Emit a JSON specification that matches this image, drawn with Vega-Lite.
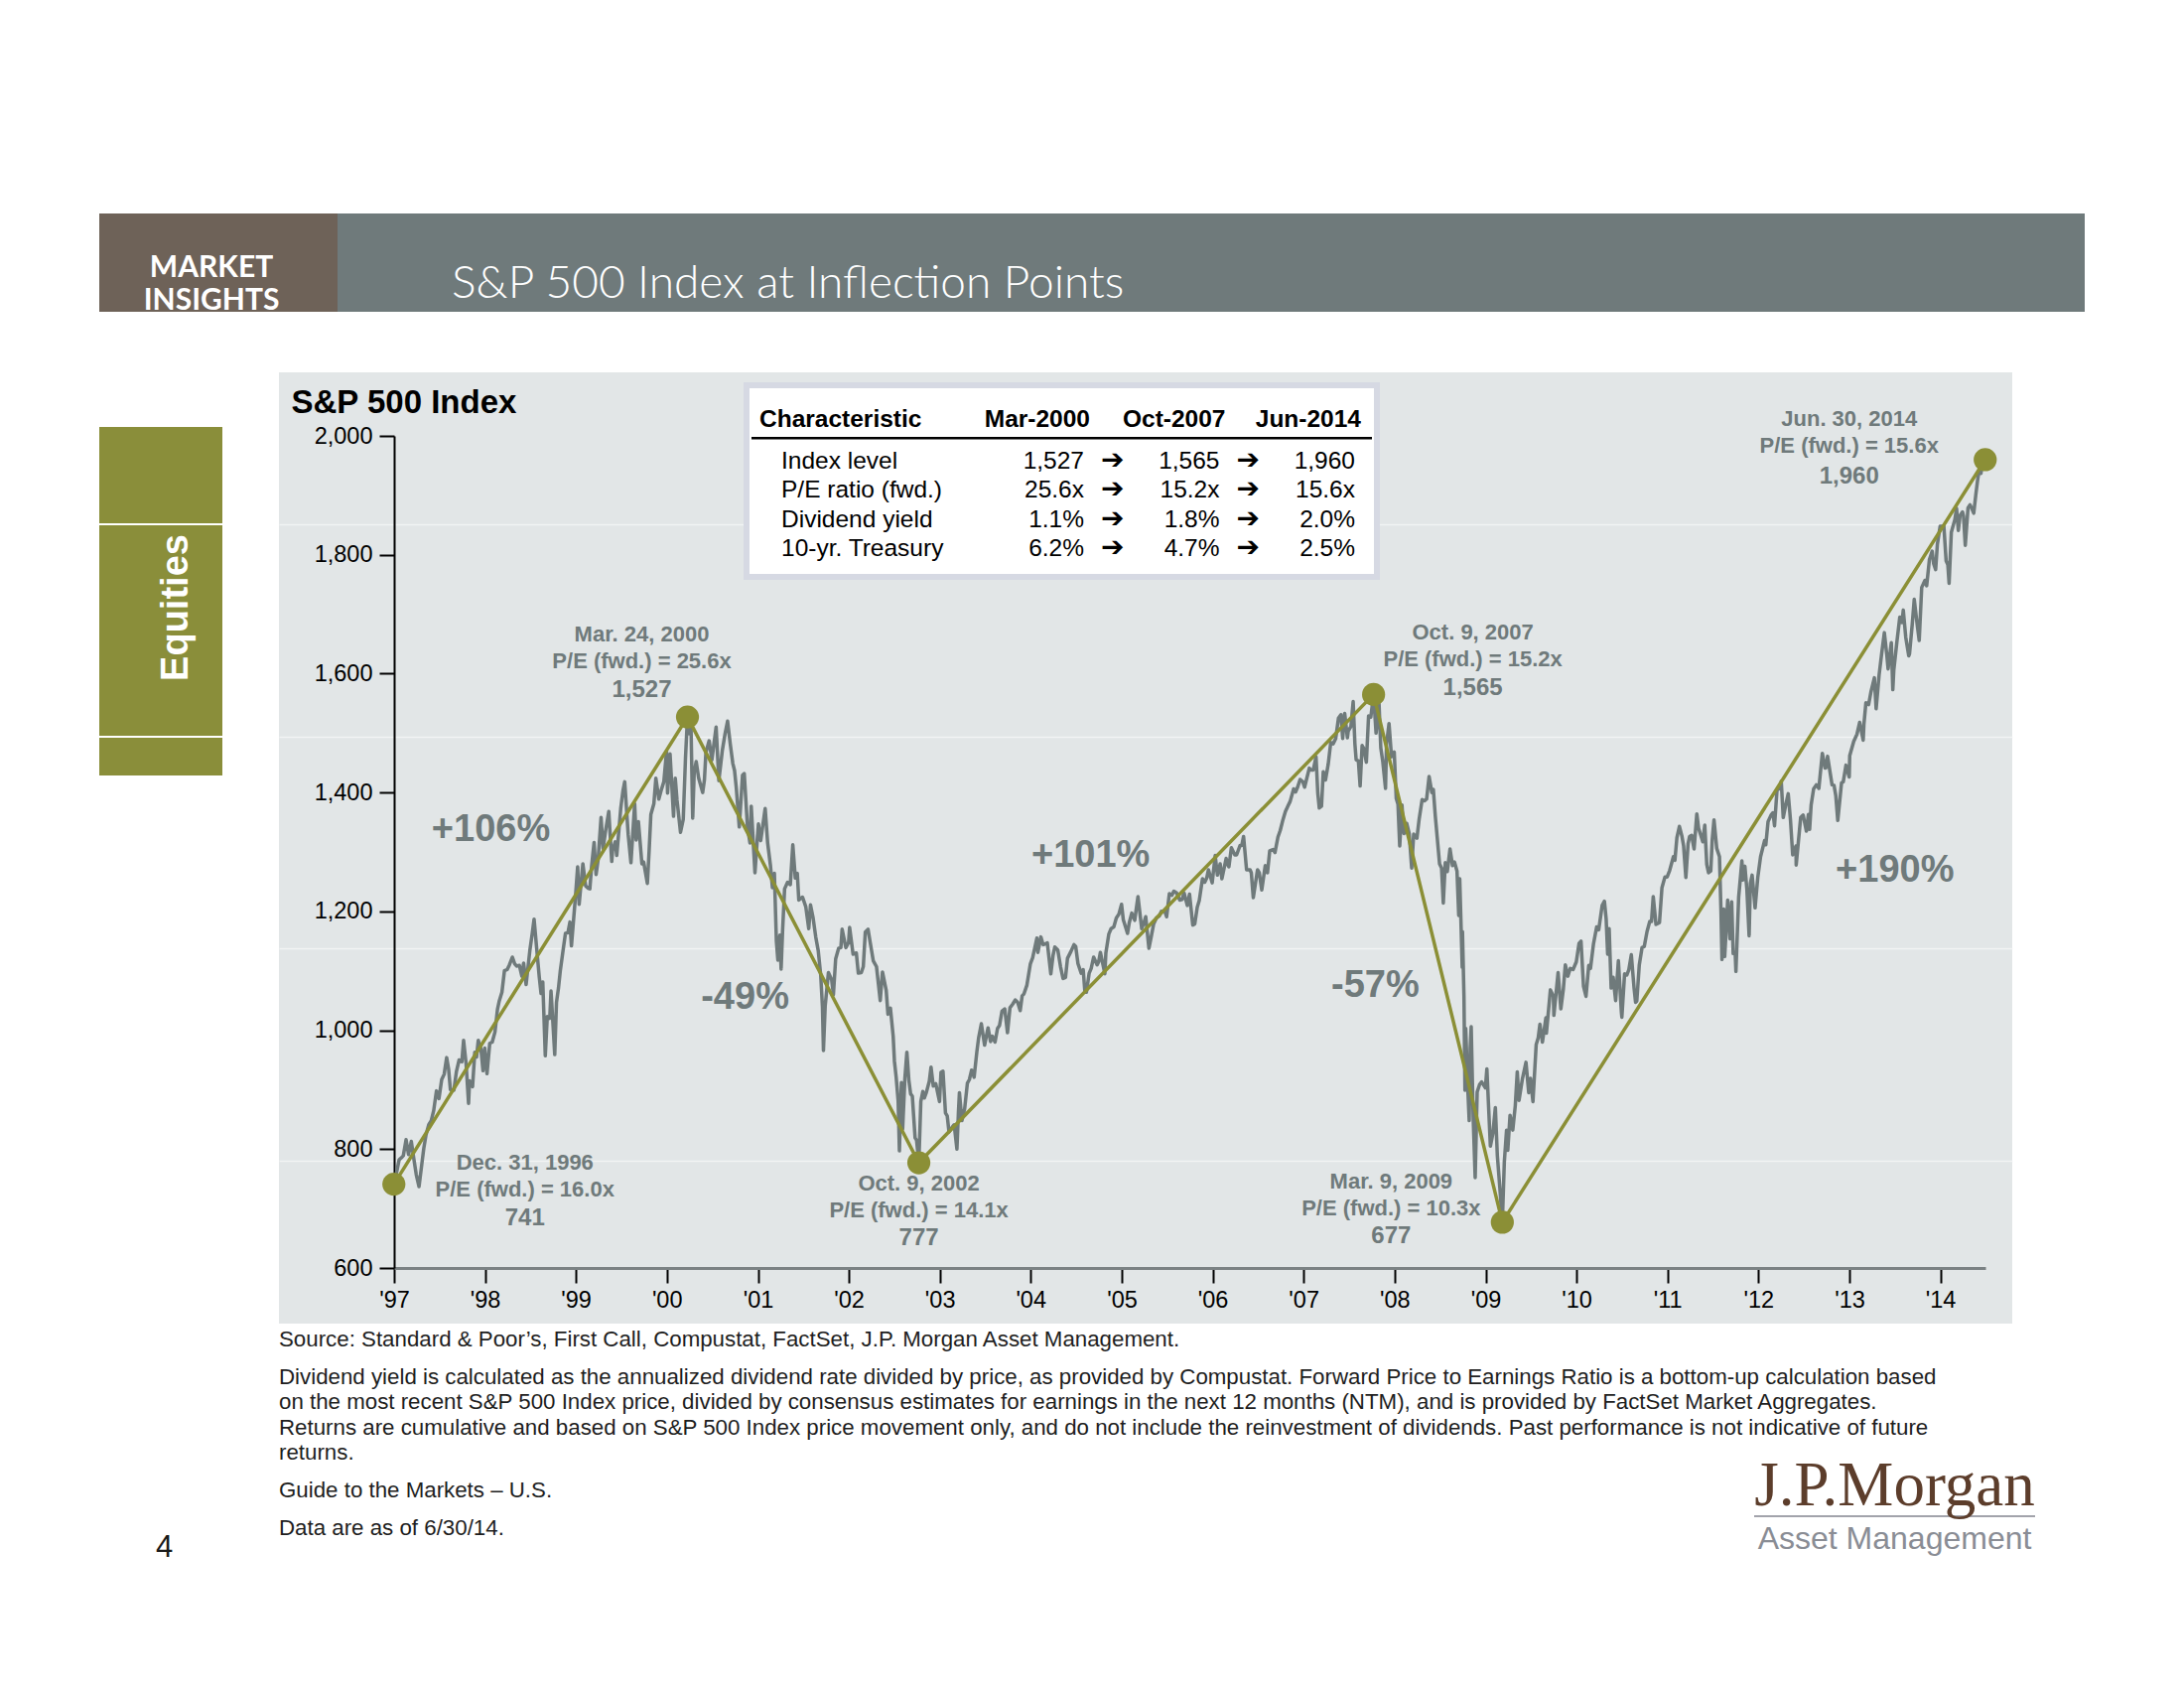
{
  "$schema": "https://vega.github.io/schema/vega-lite/v6.json",
  "background": "white",
  "autosize": {"type": "pad"},
  "padding": {"left": 100, "top": 215, "right": 0, "bottom": 0},
  "spacing": 61,
  "config": {
    "view": {"stroke": null},
    "font": "Liberation Sans",
    "axis": {"labelFont": "Liberation Sans", "titleFont": "Liberation Sans"},
    "title": {"font": "Liberation Sans"}
  },
  "datasets": {
    "pts": [
      {"date": "1996-12-31", "level": 741, "when": "Dec. 31, 1996", "note": ["Dec. 31, 1996", "P/E (fwd.) = 16.0x"], "chg": ""},
      {"date": "2000-03-24", "level": 1527, "when": "Mar. 24, 2000", "note": ["Mar. 24, 2000", "P/E (fwd.) = 25.6x"], "chg": "+106%"},
      {"date": "2002-10-09", "level": 777, "when": "Oct. 9, 2002", "note": ["Oct. 9, 2002", "P/E (fwd.) = 14.1x"], "chg": "-49%"},
      {"date": "2007-10-09", "level": 1565, "when": "Oct. 9, 2007", "note": ["Oct. 9, 2007", "P/E (fwd.) = 15.2x"], "chg": "+101%"},
      {"date": "2009-03-09", "level": 677, "when": "Mar. 9, 2009", "note": ["Mar. 9, 2009", "P/E (fwd.) = 10.3x"], "chg": "-57%"},
      {"date": "2014-06-30", "level": 1960, "when": "Jun. 30, 2014", "note": ["Jun. 30, 2014", "P/E (fwd.) = 15.6x"], "chg": "+190%"}
    ],
    "table": [
      {"r": "header", "c": "Characteristic", "t": "Characteristic"},
      {"r": "header", "c": "Mar-2000", "t": "Mar-2000"},
      {"r": "header", "c": "Oct-2007", "t": "Oct-2007"},
      {"r": "header", "c": "Jun-2014", "t": "Jun-2014"},
      {"r": "Index level", "c": "Characteristic", "t": "Index level"},
      {"r": "Index level", "c": "Mar-2000", "t": "1,527"},
      {"r": "Index level", "c": "Oct-2007", "t": "1,565"},
      {"r": "Index level", "c": "Jun-2014", "t": "1,960"},
      {"r": "P/E ratio (fwd.)", "c": "Characteristic", "t": "P/E ratio (fwd.)"},
      {"r": "P/E ratio (fwd.)", "c": "Mar-2000", "t": "25.6x"},
      {"r": "P/E ratio (fwd.)", "c": "Oct-2007", "t": "15.2x"},
      {"r": "P/E ratio (fwd.)", "c": "Jun-2014", "t": "15.6x"},
      {"r": "Dividend yield", "c": "Characteristic", "t": "Dividend yield"},
      {"r": "Dividend yield", "c": "Mar-2000", "t": "1.1%"},
      {"r": "Dividend yield", "c": "Oct-2007", "t": "1.8%"},
      {"r": "Dividend yield", "c": "Jun-2014", "t": "2.0%"},
      {"r": "10-yr. Treasury", "c": "Characteristic", "t": "10-yr. Treasury"},
      {"r": "10-yr. Treasury", "c": "Mar-2000", "t": "6.2%"},
      {"r": "10-yr. Treasury", "c": "Oct-2007", "t": "4.7%"},
      {"r": "10-yr. Treasury", "c": "Jun-2014", "t": "2.5%"}
    ],
    "foot": [
      {
        "source": "Source: Standard & Poor’s, First Call, Compustat, FactSet, J.P. Morgan Asset Management.",
        "notes": [
          "Dividend yield is calculated as the annualized dividend rate divided by price, as provided by Compustat. Forward Price to Earnings Ratio is a bottom-up calculation based",
          "on the most recent S&P 500 Index price, divided by consensus estimates for earnings in the next 12 months (NTM), and is provided by FactSet Market Aggregates.",
          "Returns are cumulative and based on S&P 500 Index price movement only, and do not include the reinvestment of dividends. Past performance is not indicative of future",
          "returns."
        ],
        "guide": "Guide to the Markets – U.S.",
        "asof": "Data are as of 6/30/14."
      }
    ],
    "sp": [
      {"date":"1996-12-31","level":741},{"date":"1997-01-02","level":737},{"date":"1997-01-10","level":759},{"date":"1997-01-21","level":782},{"date":"1997-01-31","level":786},
      {"date":"1997-02-07","level":789},{"date":"1997-02-18","level":816},{"date":"1997-02-28","level":791},{"date":"1997-03-11","level":813},{"date":"1997-03-21","level":784},
      {"date":"1997-03-31","level":757},{"date":"1997-04-11","level":737},{"date":"1997-04-22","level":774},{"date":"1997-04-30","level":801},{"date":"1997-05-09","level":824},
      {"date":"1997-05-20","level":841},{"date":"1997-05-30","level":848},{"date":"1997-06-09","level":865},{"date":"1997-06-20","level":898},{"date":"1997-06-30","level":885},
      {"date":"1997-07-11","level":917},{"date":"1997-07-21","level":926},{"date":"1997-07-31","level":954},{"date":"1997-08-08","level":934},{"date":"1997-08-15","level":900},
      {"date":"1997-08-29","level":899},{"date":"1997-09-08","level":930},{"date":"1997-09-19","level":950},{"date":"1997-09-30","level":947},{"date":"1997-10-07","level":983},
      {"date":"1997-10-17","level":944},{"date":"1997-10-27","level":877},{"date":"1997-10-31","level":915},{"date":"1997-11-12","level":905},{"date":"1997-11-21","level":963},
      {"date":"1997-11-28","level":955},{"date":"1997-12-05","level":983},{"date":"1997-12-16","level":968},{"date":"1997-12-24","level":932},{"date":"1997-12-31","level":970},
      {"date":"1998-01-09","level":927},{"date":"1998-01-20","level":978},{"date":"1998-01-30","level":980},{"date":"1998-02-10","level":997},{"date":"1998-02-20","level":1035},
      {"date":"1998-02-27","level":1049},{"date":"1998-03-10","level":1064},{"date":"1998-03-20","level":1100},{"date":"1998-03-31","level":1102},{"date":"1998-04-09","level":1110},
      {"date":"1998-04-21","level":1123},{"date":"1998-04-30","level":1112},{"date":"1998-05-08","level":1108},{"date":"1998-05-19","level":1109},{"date":"1998-05-29","level":1091},
      {"date":"1998-06-05","level":1113},{"date":"1998-06-15","level":1077},{"date":"1998-06-30","level":1134},{"date":"1998-07-10","level":1164},{"date":"1998-07-17","level":1187},
      {"date":"1998-07-31","level":1121},{"date":"1998-08-07","level":1089},{"date":"1998-08-14","level":1062},{"date":"1998-08-21","level":1081},{"date":"1998-08-31","level":957},
      {"date":"1998-09-08","level":1023},{"date":"1998-09-18","level":1020},{"date":"1998-09-23","level":1066},{"date":"1998-09-30","level":1017},{"date":"1998-10-08","level":959},
      {"date":"1998-10-15","level":1047},{"date":"1998-10-23","level":1071},{"date":"1998-10-30","level":1099},{"date":"1998-11-09","level":1130},{"date":"1998-11-20","level":1163},
      {"date":"1998-11-30","level":1164},{"date":"1998-12-08","level":1182},{"date":"1998-12-14","level":1142},{"date":"1998-12-31","level":1229},{"date":"1999-01-08","level":1275},
      {"date":"1999-01-14","level":1212},{"date":"1999-01-29","level":1280},{"date":"1999-02-09","level":1243},{"date":"1999-02-19","level":1239},{"date":"1999-02-26","level":1238},
      {"date":"1999-03-05","level":1276},{"date":"1999-03-15","level":1316},{"date":"1999-03-23","level":1262},{"date":"1999-03-31","level":1286},{"date":"1999-04-12","level":1358},
      {"date":"1999-04-20","level":1306},{"date":"1999-04-30","level":1335},{"date":"1999-05-13","level":1368},{"date":"1999-05-25","level":1284},{"date":"1999-05-28","level":1302},
      {"date":"1999-06-08","level":1317},{"date":"1999-06-14","level":1294},{"date":"1999-06-30","level":1373},{"date":"1999-07-09","level":1403},{"date":"1999-07-16","level":1418},
      {"date":"1999-07-30","level":1329},{"date":"1999-08-10","level":1282},{"date":"1999-08-25","level":1381},{"date":"1999-08-31","level":1320},{"date":"1999-09-09","level":1351},
      {"date":"1999-09-23","level":1280},{"date":"1999-09-30","level":1283},{"date":"1999-10-15","level":1247},{"date":"1999-10-22","level":1302},{"date":"1999-10-29","level":1363},
      {"date":"1999-11-10","level":1381},{"date":"1999-11-18","level":1424},{"date":"1999-11-30","level":1389},{"date":"1999-12-09","level":1403},{"date":"1999-12-20","level":1418},
      {"date":"1999-12-31","level":1469},{"date":"2000-01-04","level":1399},{"date":"2000-01-14","level":1465},{"date":"2000-01-28","level":1360},{"date":"2000-02-04","level":1424},
      {"date":"2000-02-11","level":1387},{"date":"2000-02-25","level":1333},{"date":"2000-03-07","level":1355},{"date":"2000-03-16","level":1458},{"date":"2000-03-24","level":1527},
      {"date":"2000-03-31","level":1499},{"date":"2000-04-07","level":1516},{"date":"2000-04-14","level":1357},{"date":"2000-04-20","level":1434},{"date":"2000-04-28","level":1452},
      {"date":"2000-05-08","level":1424},{"date":"2000-05-24","level":1400},{"date":"2000-05-31","level":1421},{"date":"2000-06-06","level":1467},{"date":"2000-06-19","level":1487},
      {"date":"2000-06-30","level":1455},{"date":"2000-07-17","level":1510},{"date":"2000-07-28","level":1420},{"date":"2000-08-11","level":1471},{"date":"2000-08-22","level":1499},
      {"date":"2000-09-01","level":1520},{"date":"2000-09-12","level":1481},{"date":"2000-09-22","level":1449},{"date":"2000-09-29","level":1437},{"date":"2000-10-06","level":1408},
      {"date":"2000-10-18","level":1342},{"date":"2000-10-31","level":1429},{"date":"2000-11-07","level":1432},{"date":"2000-11-20","level":1342},{"date":"2000-11-30","level":1315},
      {"date":"2000-12-05","level":1377},{"date":"2000-12-20","level":1265},{"date":"2000-12-29","level":1320},{"date":"2001-01-03","level":1347},{"date":"2001-01-12","level":1319},
      {"date":"2001-01-30","level":1373},{"date":"2001-02-09","level":1315},{"date":"2001-02-20","level":1278},{"date":"2001-02-28","level":1240},{"date":"2001-03-08","level":1264},
      {"date":"2001-03-16","level":1150},{"date":"2001-03-22","level":1118},{"date":"2001-03-30","level":1160},{"date":"2001-04-04","level":1103},{"date":"2001-04-10","level":1168},
      {"date":"2001-04-18","level":1238},{"date":"2001-04-30","level":1249},{"date":"2001-05-11","level":1245},{"date":"2001-05-21","level":1312},{"date":"2001-05-31","level":1256},
      {"date":"2001-06-08","level":1264},{"date":"2001-06-14","level":1219},{"date":"2001-06-29","level":1224},{"date":"2001-07-12","level":1208},{"date":"2001-07-24","level":1171},
      {"date":"2001-07-31","level":1211},{"date":"2001-08-10","level":1190},{"date":"2001-08-21","level":1157},{"date":"2001-08-31","level":1134},{"date":"2001-09-10","level":1093},
      {"date":"2001-09-17","level":1039},{"date":"2001-09-21","level":966},{"date":"2001-09-28","level":1041},{"date":"2001-10-11","level":1097},{"date":"2001-10-24","level":1085},
      {"date":"2001-10-31","level":1060},{"date":"2001-11-09","level":1120},{"date":"2001-11-21","level":1138},{"date":"2001-11-30","level":1139},{"date":"2001-12-05","level":1170},
      {"date":"2001-12-20","level":1139},{"date":"2001-12-31","level":1148},{"date":"2002-01-04","level":1173},{"date":"2002-01-18","level":1128},{"date":"2002-01-31","level":1130},
      {"date":"2002-02-08","level":1096},{"date":"2002-02-20","level":1097},{"date":"2002-02-28","level":1107},{"date":"2002-03-08","level":1165},{"date":"2002-03-19","level":1170},
      {"date":"2002-03-28","level":1147},{"date":"2002-04-09","level":1117},{"date":"2002-04-22","level":1107},{"date":"2002-04-30","level":1077},{"date":"2002-05-07","level":1050},
      {"date":"2002-05-16","level":1098},{"date":"2002-05-31","level":1067},{"date":"2002-06-07","level":1027},{"date":"2002-06-17","level":1037},{"date":"2002-06-28","level":990},
      {"date":"2002-07-03","level":948},{"date":"2002-07-10","level":921},{"date":"2002-07-18","level":881},{"date":"2002-07-23","level":797},{"date":"2002-07-31","level":912},
      {"date":"2002-08-05","level":834},{"date":"2002-08-14","level":919},{"date":"2002-08-22","level":963},{"date":"2002-08-30","level":916},{"date":"2002-09-06","level":893},
      {"date":"2002-09-13","level":889},{"date":"2002-09-24","level":819},{"date":"2002-09-30","level":815},{"date":"2002-10-09","level":777},{"date":"2002-10-17","level":880},
      {"date":"2002-10-25","level":897},{"date":"2002-10-31","level":886},{"date":"2002-11-08","level":895},{"date":"2002-11-20","level":914},{"date":"2002-11-27","level":938},
      {"date":"2002-12-06","level":906},{"date":"2002-12-16","level":910},{"date":"2002-12-31","level":880},{"date":"2003-01-06","level":929},{"date":"2003-01-14","level":931},
      {"date":"2003-01-24","level":861},{"date":"2003-01-31","level":856},{"date":"2003-02-07","level":829},{"date":"2003-02-20","level":837},{"date":"2003-02-28","level":841},
      {"date":"2003-03-11","level":800},{"date":"2003-03-17","level":862},{"date":"2003-03-21","level":895},{"date":"2003-03-31","level":848},{"date":"2003-04-11","level":868},
      {"date":"2003-04-22","level":911},{"date":"2003-04-30","level":917},{"date":"2003-05-09","level":933},{"date":"2003-05-19","level":921},{"date":"2003-05-30","level":964},
      {"date":"2003-06-06","level":987},{"date":"2003-06-17","level":1011},{"date":"2003-06-30","level":975},{"date":"2003-07-14","level":1004},{"date":"2003-07-24","level":981},
      {"date":"2003-07-31","level":990},{"date":"2003-08-11","level":980},{"date":"2003-08-21","level":1003},{"date":"2003-08-29","level":1008},{"date":"2003-09-08","level":1032},
      {"date":"2003-09-19","level":1036},{"date":"2003-09-30","level":996},{"date":"2003-10-10","level":1038},{"date":"2003-10-21","level":1044},{"date":"2003-10-31","level":1051},
      {"date":"2003-11-10","level":1047},{"date":"2003-11-20","level":1033},{"date":"2003-11-28","level":1058},{"date":"2003-12-05","level":1061},{"date":"2003-12-17","level":1076},
      {"date":"2003-12-31","level":1112},{"date":"2004-01-09","level":1122},{"date":"2004-01-26","level":1155},{"date":"2004-01-30","level":1131},{"date":"2004-02-11","level":1157},
      {"date":"2004-02-20","level":1144},{"date":"2004-02-27","level":1145},{"date":"2004-03-08","level":1147},{"date":"2004-03-22","level":1095},{"date":"2004-03-31","level":1126},
      {"date":"2004-04-07","level":1140},{"date":"2004-04-19","level":1135},{"date":"2004-04-30","level":1107},{"date":"2004-05-10","level":1087},{"date":"2004-05-20","level":1089},
      {"date":"2004-05-28","level":1121},{"date":"2004-06-09","level":1131},{"date":"2004-06-23","level":1144},{"date":"2004-06-30","level":1141},{"date":"2004-07-09","level":1112},
      {"date":"2004-07-22","level":1096},{"date":"2004-07-30","level":1102},{"date":"2004-08-06","level":1064},{"date":"2004-08-12","level":1064},{"date":"2004-08-23","level":1096},
      {"date":"2004-08-31","level":1104},{"date":"2004-09-10","level":1123},{"date":"2004-09-24","level":1110},{"date":"2004-09-30","level":1115},{"date":"2004-10-07","level":1131},
      {"date":"2004-10-25","level":1095},{"date":"2004-10-29","level":1130},{"date":"2004-11-10","level":1162},{"date":"2004-11-19","level":1171},{"date":"2004-11-30","level":1174},
      {"date":"2004-12-10","level":1189},{"date":"2004-12-20","level":1195},{"date":"2004-12-31","level":1212},{"date":"2005-01-07","level":1186},{"date":"2005-01-24","level":1163},
      {"date":"2005-01-31","level":1181},{"date":"2005-02-10","level":1197},{"date":"2005-02-22","level":1185},{"date":"2005-02-28","level":1204},{"date":"2005-03-07","level":1225},
      {"date":"2005-03-22","level":1171},{"date":"2005-03-31","level":1181},{"date":"2005-04-07","level":1191},{"date":"2005-04-20","level":1138},{"date":"2005-04-29","level":1157},
      {"date":"2005-05-09","level":1179},{"date":"2005-05-20","level":1189},{"date":"2005-05-31","level":1192},{"date":"2005-06-09","level":1200},{"date":"2005-06-23","level":1200},
      {"date":"2005-06-30","level":1191},{"date":"2005-07-11","level":1230},{"date":"2005-07-21","level":1227},{"date":"2005-07-29","level":1234},{"date":"2005-08-09","level":1231},
      {"date":"2005-08-22","level":1219},{"date":"2005-08-31","level":1220},{"date":"2005-09-08","level":1231},{"date":"2005-09-21","level":1210},{"date":"2005-09-30","level":1229},
      {"date":"2005-10-13","level":1177},{"date":"2005-10-21","level":1179},{"date":"2005-10-31","level":1207},{"date":"2005-11-08","level":1218},{"date":"2005-11-21","level":1255},
      {"date":"2005-11-30","level":1249},{"date":"2005-12-08","level":1256},{"date":"2005-12-15","level":1270},{"date":"2005-12-30","level":1248},{"date":"2006-01-11","level":1294},
      {"date":"2006-01-20","level":1261},{"date":"2006-01-31","level":1280},{"date":"2006-02-07","level":1255},{"date":"2006-02-24","level":1289},{"date":"2006-02-28","level":1281},
      {"date":"2006-03-07","level":1275},{"date":"2006-03-17","level":1307},{"date":"2006-03-31","level":1295},{"date":"2006-04-07","level":1295},{"date":"2006-04-21","level":1311},
      {"date":"2006-04-28","level":1311},{"date":"2006-05-05","level":1326},{"date":"2006-05-17","level":1270},{"date":"2006-05-31","level":1270},{"date":"2006-06-05","level":1265},
      {"date":"2006-06-13","level":1223},{"date":"2006-06-30","level":1270},{"date":"2006-07-07","level":1265},{"date":"2006-07-17","level":1236},{"date":"2006-07-31","level":1277},
      {"date":"2006-08-09","level":1265},{"date":"2006-08-18","level":1302},{"date":"2006-08-31","level":1304},{"date":"2006-09-08","level":1299},{"date":"2006-09-20","level":1325},
      {"date":"2006-09-29","level":1336},{"date":"2006-10-10","level":1354},{"date":"2006-10-20","level":1368},{"date":"2006-10-31","level":1378},{"date":"2006-11-08","level":1385},
      {"date":"2006-11-22","level":1406},{"date":"2006-11-30","level":1401},{"date":"2006-12-08","level":1409},{"date":"2006-12-18","level":1422},{"date":"2006-12-29","level":1418},
      {"date":"2007-01-05","level":1409},{"date":"2007-01-24","level":1441},{"date":"2007-01-31","level":1438},{"date":"2007-02-09","level":1438},{"date":"2007-02-20","level":1460},
      {"date":"2007-02-27","level":1399},{"date":"2007-03-05","level":1374},{"date":"2007-03-14","level":1377},{"date":"2007-03-21","level":1435},{"date":"2007-03-30","level":1421},
      {"date":"2007-04-10","level":1448},{"date":"2007-04-20","level":1484},{"date":"2007-04-30","level":1482},{"date":"2007-05-10","level":1491},{"date":"2007-05-21","level":1525},
      {"date":"2007-05-31","level":1531},{"date":"2007-06-07","level":1491},{"date":"2007-06-15","level":1533},{"date":"2007-06-26","level":1492},{"date":"2007-06-29","level":1503},
      {"date":"2007-07-10","level":1511},{"date":"2007-07-19","level":1553},{"date":"2007-07-26","level":1482},{"date":"2007-07-31","level":1455},{"date":"2007-08-09","level":1453},
      {"date":"2007-08-16","level":1411},{"date":"2007-08-24","level":1479},{"date":"2007-08-31","level":1474},{"date":"2007-09-10","level":1451},{"date":"2007-09-19","level":1529},
      {"date":"2007-09-28","level":1527},{"date":"2007-10-09","level":1565},{"date":"2007-10-19","level":1500},{"date":"2007-10-31","level":1549},{"date":"2007-11-07","level":1475},
      {"date":"2007-11-15","level":1452},{"date":"2007-11-26","level":1407},{"date":"2007-11-30","level":1481},{"date":"2007-12-10","level":1516},{"date":"2007-12-20","level":1460},
      {"date":"2007-12-31","level":1468},{"date":"2008-01-08","level":1390},{"date":"2008-01-15","level":1380},{"date":"2008-01-22","level":1310},{"date":"2008-01-31","level":1379},
      {"date":"2008-02-08","level":1331},{"date":"2008-02-19","level":1348},{"date":"2008-02-29","level":1331},{"date":"2008-03-10","level":1273},{"date":"2008-03-18","level":1330},
      {"date":"2008-03-31","level":1323},{"date":"2008-04-09","level":1355},{"date":"2008-04-21","level":1388},{"date":"2008-04-30","level":1386},{"date":"2008-05-09","level":1389},
      {"date":"2008-05-19","level":1427},{"date":"2008-05-30","level":1400},{"date":"2008-06-05","level":1405},{"date":"2008-06-13","level":1360},{"date":"2008-06-30","level":1280},
      {"date":"2008-07-08","level":1273},{"date":"2008-07-15","level":1214},{"date":"2008-07-23","level":1282},{"date":"2008-07-31","level":1267},{"date":"2008-08-11","level":1305},
      {"date":"2008-08-21","level":1277},{"date":"2008-08-29","level":1283},{"date":"2008-09-08","level":1268},{"date":"2008-09-15","level":1193},{"date":"2008-09-19","level":1255},
      {"date":"2008-09-29","level":1106},{"date":"2008-09-30","level":1166},{"date":"2008-10-06","level":1057},{"date":"2008-10-10","level":899},{"date":"2008-10-13","level":1003},
      {"date":"2008-10-22","level":896},{"date":"2008-10-27","level":848},{"date":"2008-10-31","level":969},{"date":"2008-11-04","level":1006},{"date":"2008-11-12","level":853},
      {"date":"2008-11-20","level":752},{"date":"2008-11-28","level":896},{"date":"2008-12-08","level":909},{"date":"2008-12-16","level":913},{"date":"2008-12-31","level":903},
      {"date":"2009-01-06","level":935},{"date":"2009-01-20","level":805},{"date":"2009-01-30","level":826},{"date":"2009-02-09","level":870},{"date":"2009-02-17","level":789},
      {"date":"2009-02-27","level":735},{"date":"2009-03-09","level":677},{"date":"2009-03-17","level":778},{"date":"2009-03-26","level":832},{"date":"2009-03-31","level":798},
      {"date":"2009-04-09","level":857},{"date":"2009-04-20","level":832},{"date":"2009-04-30","level":873},{"date":"2009-05-08","level":930},{"date":"2009-05-15","level":882},
      {"date":"2009-05-29","level":919},{"date":"2009-06-12","level":946},{"date":"2009-06-23","level":895},{"date":"2009-06-30","level":919},{"date":"2009-07-10","level":880},
      {"date":"2009-07-23","level":976},{"date":"2009-07-31","level":987},{"date":"2009-08-07","level":1010},{"date":"2009-08-17","level":980},{"date":"2009-08-31","level":1021},
      {"date":"2009-09-02","level":995},{"date":"2009-09-18","level":1068},{"date":"2009-09-30","level":1057},{"date":"2009-10-02","level":1025},{"date":"2009-10-19","level":1097},
      {"date":"2009-10-30","level":1036},{"date":"2009-11-09","level":1069},{"date":"2009-11-17","level":1110},{"date":"2009-11-27","level":1091},{"date":"2009-12-07","level":1104},
      {"date":"2009-12-18","level":1102},{"date":"2009-12-31","level":1115},{"date":"2010-01-11","level":1146},{"date":"2010-01-19","level":1150},{"date":"2010-01-29","level":1074},
      {"date":"2010-02-08","level":1057},{"date":"2010-02-19","level":1109},{"date":"2010-02-26","level":1104},{"date":"2010-03-10","level":1145},{"date":"2010-03-23","level":1174},
      {"date":"2010-03-31","level":1169},{"date":"2010-04-14","level":1210},{"date":"2010-04-23","level":1217},{"date":"2010-04-30","level":1187},{"date":"2010-05-06","level":1128},
      {"date":"2010-05-12","level":1171},{"date":"2010-05-20","level":1071},{"date":"2010-05-28","level":1089},{"date":"2010-06-07","level":1050},{"date":"2010-06-18","level":1117},
      {"date":"2010-06-30","level":1031},{"date":"2010-07-02","level":1022},{"date":"2010-07-13","level":1095},{"date":"2010-07-22","level":1093},{"date":"2010-07-30","level":1102},
      {"date":"2010-08-09","level":1127},{"date":"2010-08-20","level":1071},{"date":"2010-08-26","level":1047},{"date":"2010-08-31","level":1049},{"date":"2010-09-10","level":1110},
      {"date":"2010-09-21","level":1139},{"date":"2010-09-30","level":1141},{"date":"2010-10-11","level":1166},{"date":"2010-10-22","level":1183},{"date":"2010-10-29","level":1183},
      {"date":"2010-11-05","level":1225},{"date":"2010-11-16","level":1178},{"date":"2010-11-30","level":1181},{"date":"2010-12-10","level":1240},{"date":"2010-12-22","level":1258},
      {"date":"2010-12-31","level":1258},{"date":"2011-01-10","level":1269},{"date":"2011-01-25","level":1292},{"date":"2011-01-31","level":1286},{"date":"2011-02-08","level":1324},
      {"date":"2011-02-18","level":1343},{"date":"2011-02-28","level":1327},{"date":"2011-03-07","level":1310},{"date":"2011-03-16","level":1257},{"date":"2011-03-25","level":1314},
      {"date":"2011-03-31","level":1326},{"date":"2011-04-08","level":1328},{"date":"2011-04-18","level":1305},{"date":"2011-04-29","level":1364},{"date":"2011-05-06","level":1340},
      {"date":"2011-05-23","level":1317},{"date":"2011-05-31","level":1345},{"date":"2011-06-08","level":1279},{"date":"2011-06-15","level":1265},{"date":"2011-06-24","level":1268},
      {"date":"2011-06-30","level":1321},{"date":"2011-07-07","level":1354},{"date":"2011-07-18","level":1306},{"date":"2011-07-29","level":1292},{"date":"2011-08-04","level":1200},
      {"date":"2011-08-08","level":1119},{"date":"2011-08-15","level":1204},{"date":"2011-08-19","level":1124},{"date":"2011-08-31","level":1219},{"date":"2011-09-09","level":1154},
      {"date":"2011-09-16","level":1216},{"date":"2011-09-22","level":1129},{"date":"2011-09-30","level":1131},{"date":"2011-10-03","level":1099},{"date":"2011-10-14","level":1224},
      {"date":"2011-10-27","level":1285},{"date":"2011-10-31","level":1253},{"date":"2011-11-08","level":1276},{"date":"2011-11-16","level":1237},{"date":"2011-11-25","level":1159},
      {"date":"2011-11-30","level":1247},{"date":"2011-12-07","level":1261},{"date":"2011-12-19","level":1206},{"date":"2011-12-30","level":1258},{"date":"2012-01-10","level":1292},
      {"date":"2012-01-26","level":1319},{"date":"2012-01-31","level":1312},{"date":"2012-02-09","level":1351},{"date":"2012-02-21","level":1362},{"date":"2012-02-29","level":1366},
      {"date":"2012-03-06","level":1344},{"date":"2012-03-16","level":1404},{"date":"2012-03-30","level":1408},{"date":"2012-04-02","level":1419},{"date":"2012-04-10","level":1358},
      {"date":"2012-04-20","level":1379},{"date":"2012-04-30","level":1398},{"date":"2012-05-09","level":1354},{"date":"2012-05-18","level":1295},{"date":"2012-05-31","level":1310},
      {"date":"2012-06-01","level":1278},{"date":"2012-06-19","level":1358},{"date":"2012-06-29","level":1362},{"date":"2012-07-12","level":1335},{"date":"2012-07-20","level":1363},
      {"date":"2012-07-25","level":1338},{"date":"2012-07-31","level":1379},{"date":"2012-08-10","level":1406},{"date":"2012-08-21","level":1413},{"date":"2012-08-31","level":1407},
      {"date":"2012-09-14","level":1466},{"date":"2012-09-25","level":1441},{"date":"2012-09-28","level":1441},{"date":"2012-10-05","level":1461},{"date":"2012-10-23","level":1413},
      {"date":"2012-10-31","level":1412},{"date":"2012-11-07","level":1395},{"date":"2012-11-15","level":1353},{"date":"2012-11-30","level":1416},{"date":"2012-12-07","level":1418},
      {"date":"2012-12-18","level":1446},{"date":"2012-12-31","level":1426},{"date":"2013-01-02","level":1462},{"date":"2013-01-18","level":1486},{"date":"2013-01-31","level":1498},
      {"date":"2013-02-11","level":1518},{"date":"2013-02-25","level":1488},{"date":"2013-02-28","level":1515},{"date":"2013-03-08","level":1551},{"date":"2013-03-19","level":1548},
      {"date":"2013-03-28","level":1569},{"date":"2013-04-11","level":1593},{"date":"2013-04-18","level":1541},{"date":"2013-04-30","level":1598},{"date":"2013-05-10","level":1633},
      {"date":"2013-05-21","level":1669},{"date":"2013-05-31","level":1631},{"date":"2013-06-05","level":1608},{"date":"2013-06-18","level":1652},{"date":"2013-06-24","level":1573},
      {"date":"2013-06-28","level":1606},{"date":"2013-07-10","level":1652},{"date":"2013-07-22","level":1695},{"date":"2013-07-31","level":1686},{"date":"2013-08-05","level":1707},
      {"date":"2013-08-15","level":1661},{"date":"2013-08-27","level":1630},{"date":"2013-08-30","level":1633},{"date":"2013-09-10","level":1683},{"date":"2013-09-18","level":1725},
      {"date":"2013-09-30","level":1682},{"date":"2013-10-08","level":1656},{"date":"2013-10-18","level":1745},{"date":"2013-10-31","level":1757},{"date":"2013-11-07","level":1748},
      {"date":"2013-11-18","level":1792},{"date":"2013-11-29","level":1806},{"date":"2013-12-05","level":1785},{"date":"2013-12-13","level":1775},{"date":"2013-12-20","level":1818},
      {"date":"2013-12-31","level":1848},{"date":"2014-01-15","level":1848},{"date":"2014-01-24","level":1790},{"date":"2014-01-31","level":1783},{"date":"2014-02-05","level":1752},
      {"date":"2014-02-14","level":1838},{"date":"2014-02-28","level":1859},{"date":"2014-03-07","level":1878},{"date":"2014-03-14","level":1841},{"date":"2014-03-21","level":1866},
      {"date":"2014-03-31","level":1872},{"date":"2014-04-04","level":1865},{"date":"2014-04-11","level":1816},{"date":"2014-04-22","level":1879},{"date":"2014-04-30","level":1884},
      {"date":"2014-05-07","level":1878},{"date":"2014-05-15","level":1870},{"date":"2014-05-23","level":1900},{"date":"2014-05-30","level":1924},{"date":"2014-06-09","level":1951},
      {"date":"2014-06-13","level":1937},{"date":"2014-06-20","level":1963},{"date":"2014-06-30","level":1960}
    ]
  },
  "vconcat": [
    {
      "hconcat": [
        {
          "width": 240, "height": 99,
          "view": {"fill": "#6E6258", "stroke": null},
          "data": {"values": [{"brand": ["MARKET", "INSIGHTS"]}]},
          "mark": {"type": "text", "clip": true, "align": "center", "baseline": "alphabetic", "dx": -7, "dy": 14.5, "lineHeight": 33, "font": "Lato", "fontSize": 30, "fontWeight": "bold", "color": "white"},
          "encoding": {"text": {"field": "brand"}}
        },
        {
          "width": 1760, "height": 99,
          "view": {"fill": "#6F7A7B", "stroke": null},
          "title": {"text": "S&P 500 Index at Inflection Points", "orient": "bottom", "anchor": "start", "frame": "group", "offset": -50, "dx": 115, "font": "Lato", "fontSize": 46, "fontWeight": 300, "color": "white"},
          "data": {"values": []},
          "mark": "point"
        }
      ],
      "spacing": 0,
      "bounds": "flush"
    },
    {
      "vconcat": [
        {
          "hconcat": [
            {
              "vconcat": [
                {"width": 124, "height": 53, "data": {"values": []}, "mark": "point"},
                {"width": 124, "height": 97, "view": {"fill": "#8A8E3A", "stroke": null}, "data": {"values": []}, "mark": "point"},
                {
                  "width": 124, "height": 212,
                  "view": {"fill": "#8A8E3A", "stroke": null},
                  "data": {"values": [{"section": "Equities"}]},
                  "mark": {"type": "text", "angle": 270, "align": "center", "baseline": "alphabetic", "dx": 23, "dy": 27, "fontSize": 38, "fontWeight": "bold", "color": "white"},
                  "encoding": {"text": {"field": "section"}}
                },
                {"width": 124, "height": 38, "view": {"fill": "#8A8E3A", "stroke": null}, "data": {"values": []}, "mark": "point"}
              ],
              "spacing": 2,
              "bounds": "flush"
            },
            {
              "width": 1746, "height": 958,
              "view": {"fill": "#E2E6E7", "stroke": null},
              "resolve": {"scale": {"x": "independent", "y": "independent"}},
              "layer": [
                {
                  "data": {"values": []},
                  "mark": "point",
                  "encoding": {
                    "y": {
                      "field": "level", "type": "quantitative",
                      "scale": {"domain": [600, 2000], "range": [902, 64], "nice": false, "zero": false},
                      "axis": {"orient": "left", "values": [781, 1138, 1494.5, 1851], "grid": true, "gridColor": "#F4F5F5", "gridWidth": 1.3, "gridOpacity": 0.9, "labels": false, "ticks": false, "domain": false, "title": null, "zindex": 0}
                    }
                  }
                },
                {
                  "encoding": {
                    "x": {
                      "field": "date", "type": "temporal",
                      "scale": {"domain": [{"year": 1997, "month": 1, "date": 1}, {"year": 2014, "month": 7, "date": 1}], "range": [116, 1719], "nice": false},
                      "axis": {"orient": "bottom", "offset": -56, "format": "'%y", "tickCount": {"interval": "year", "step": 1}, "labelFlush": false, "labelOverlap": false, "labelFontSize": 23.5, "labelColor": "black", "labelPadding": 5, "tickSize": 15, "tickColor": "black", "tickWidth": 2, "domainColor": "#7B8284", "domainWidth": 3, "grid": false, "title": null}
                    },
                    "y": {
                      "field": "level", "type": "quantitative",
                      "scale": {"domain": [600, 2000], "range": [902, 64], "nice": false, "zero": false},
                      "axis": {"orient": "left", "offset": -116, "values": [600, 800, 1000, 1200, 1400, 1600, 1800, 2000], "format": ",.0f", "labelFlush": false, "labelFontSize": 23.5, "labelColor": "black", "labelPadding": 7, "tickSize": 15, "tickColor": "black", "tickWidth": 2, "domainColor": "black", "domainWidth": 2, "grid": false, "title": "S&P 500 Index", "titleAngle": 0, "titleAlign": "left", "titleBaseline": "alphabetic", "titleX": -104, "titleY": 40, "titleFontSize": 33, "titleFontWeight": "bold", "titleColor": "black"}
                    }
                  },
                  "layer": [
                    {"data": {"name": "sp"}, "mark": {"type": "line", "color": "#6F7A7B", "strokeWidth": 3.5, "strokeJoin": "round"}},
                    {"data": {"name": "pts"}, "mark": {"type": "line", "color": "#8B8F36", "strokeWidth": 3.5}},
                    {"data": {"name": "pts"}, "mark": {"type": "point", "filled": true, "opacity": 1, "size": 540, "color": "#8B8F36"}},
                    {"data": {"name": "pts"}, "transform": [{"filter": {"field": "when", "equal": "Dec. 31, 1996"}}], "mark": {"type": "text", "align": "center", "baseline": "alphabetic", "dx": 132, "dy": -15, "lineHeight": 27, "fontSize": 22, "fontWeight": "bold", "color": "#6F7A7B"}, "encoding": {"text": {"field": "note"}}},
                    {"data": {"name": "pts"}, "transform": [{"filter": {"field": "when", "equal": "Dec. 31, 1996"}}], "mark": {"type": "text", "align": "center", "baseline": "alphabetic", "dx": 132, "dy": 41, "fontSize": 24, "fontWeight": "bold", "color": "#6F7A7B"}, "encoding": {"text": {"field": "level", "type": "quantitative", "format": ","}}},
                    {"data": {"name": "pts"}, "transform": [{"filter": {"field": "when", "equal": "Mar. 24, 2000"}}], "mark": {"type": "text", "align": "center", "baseline": "alphabetic", "dx": -46, "dy": -76, "lineHeight": 27, "fontSize": 22, "fontWeight": "bold", "color": "#6F7A7B"}, "encoding": {"text": {"field": "note"}}},
                    {"data": {"name": "pts"}, "transform": [{"filter": {"field": "when", "equal": "Mar. 24, 2000"}}], "mark": {"type": "text", "align": "center", "baseline": "alphabetic", "dx": -46, "dy": -20, "fontSize": 24, "fontWeight": "bold", "color": "#6F7A7B"}, "encoding": {"text": {"field": "level", "type": "quantitative", "format": ","}}},
                    {"data": {"name": "pts"}, "transform": [{"filter": {"field": "when", "equal": "Oct. 9, 2002"}}], "mark": {"type": "text", "align": "center", "baseline": "alphabetic", "dx": 0, "dy": 28, "lineHeight": 27, "fontSize": 22, "fontWeight": "bold", "color": "#6F7A7B"}, "encoding": {"text": {"field": "note"}}},
                    {"data": {"name": "pts"}, "transform": [{"filter": {"field": "when", "equal": "Oct. 9, 2002"}}], "mark": {"type": "text", "align": "center", "baseline": "alphabetic", "dx": 0, "dy": 83, "fontSize": 24, "fontWeight": "bold", "color": "#6F7A7B"}, "encoding": {"text": {"field": "level", "type": "quantitative", "format": ","}}},
                    {"data": {"name": "pts"}, "transform": [{"filter": {"field": "when", "equal": "Oct. 9, 2007"}}], "mark": {"type": "text", "align": "center", "baseline": "alphabetic", "dx": 100, "dy": -55, "lineHeight": 27, "fontSize": 22, "fontWeight": "bold", "color": "#6F7A7B"}, "encoding": {"text": {"field": "note"}}},
                    {"data": {"name": "pts"}, "transform": [{"filter": {"field": "when", "equal": "Oct. 9, 2007"}}], "mark": {"type": "text", "align": "center", "baseline": "alphabetic", "dx": 100, "dy": 1, "fontSize": 24, "fontWeight": "bold", "color": "#6F7A7B"}, "encoding": {"text": {"field": "level", "type": "quantitative", "format": ","}}},
                    {"data": {"name": "pts"}, "transform": [{"filter": {"field": "when", "equal": "Mar. 9, 2009"}}], "mark": {"type": "text", "align": "center", "baseline": "alphabetic", "dx": -112, "dy": -34, "lineHeight": 27, "fontSize": 22, "fontWeight": "bold", "color": "#6F7A7B"}, "encoding": {"text": {"field": "note"}}},
                    {"data": {"name": "pts"}, "transform": [{"filter": {"field": "when", "equal": "Mar. 9, 2009"}}], "mark": {"type": "text", "align": "center", "baseline": "alphabetic", "dx": -112, "dy": 21, "fontSize": 24, "fontWeight": "bold", "color": "#6F7A7B"}, "encoding": {"text": {"field": "level", "type": "quantitative", "format": ","}}},
                    {"data": {"name": "pts"}, "transform": [{"filter": {"field": "when", "equal": "Jun. 30, 2014"}}], "mark": {"type": "text", "align": "center", "baseline": "alphabetic", "dx": -137, "dy": -34, "lineHeight": 27, "fontSize": 22, "fontWeight": "bold", "color": "#6F7A7B"}, "encoding": {"text": {"field": "note"}}},
                    {"data": {"name": "pts"}, "transform": [{"filter": {"field": "when", "equal": "Jun. 30, 2014"}}], "mark": {"type": "text", "align": "center", "baseline": "alphabetic", "dx": -137, "dy": 24, "fontSize": 24, "fontWeight": "bold", "color": "#6F7A7B"}, "encoding": {"text": {"field": "level", "type": "quantitative", "format": ","}}},
                    {"data": {"name": "pts"}, "transform": [{"filter": {"field": "when", "equal": "Mar. 24, 2000"}}], "mark": {"type": "text", "align": "center", "baseline": "alphabetic", "dx": -198, "dy": 125, "fontSize": 38, "fontWeight": "bold", "color": "#6F7A7B"}, "encoding": {"text": {"field": "chg"}}},
                    {"data": {"name": "pts"}, "transform": [{"filter": {"field": "when", "equal": "Oct. 9, 2002"}}], "mark": {"type": "text", "align": "center", "baseline": "alphabetic", "dx": -175, "dy": -155, "fontSize": 38, "fontWeight": "bold", "color": "#6F7A7B"}, "encoding": {"text": {"field": "chg"}}},
                    {"data": {"name": "pts"}, "transform": [{"filter": {"field": "when", "equal": "Oct. 9, 2007"}}], "mark": {"type": "text", "align": "center", "baseline": "alphabetic", "dx": -285, "dy": 174, "fontSize": 38, "fontWeight": "bold", "color": "#6F7A7B"}, "encoding": {"text": {"field": "chg"}}},
                    {"data": {"name": "pts"}, "transform": [{"filter": {"field": "when", "equal": "Mar. 9, 2009"}}], "mark": {"type": "text", "align": "center", "baseline": "alphabetic", "dx": -128, "dy": -227, "fontSize": 38, "fontWeight": "bold", "color": "#6F7A7B"}, "encoding": {"text": {"field": "chg"}}},
                    {"data": {"name": "pts"}, "transform": [{"filter": {"field": "when", "equal": "Jun. 30, 2014"}}], "mark": {"type": "text", "align": "center", "baseline": "alphabetic", "dx": -91, "dy": 425, "fontSize": 38, "fontWeight": "bold", "color": "#6F7A7B"}, "encoding": {"text": {"field": "chg"}}}
                  ]
                },
                {
                  "data": {"values": [{"part": "table"}]},
                  "mark": {"type": "rect", "fill": "white", "stroke": "#D6D9E3", "strokeWidth": 6},
                  "encoding": {
                    "x": {"field": "part", "type": "nominal", "scale": {"type": "band", "domain": ["table"], "range": [471, 1106], "paddingInner": 0, "paddingOuter": 0}, "axis": null},
                    "y": {"field": "part", "type": "nominal", "scale": {"type": "band", "domain": ["table"], "range": [13, 206], "paddingInner": 0, "paddingOuter": 0}, "axis": null}
                  }
                },
                {
                  "data": {"values": [{"part": "header rule"}]},
                  "mark": {"type": "rect", "fill": "black"},
                  "encoding": {
                    "x": {"field": "part", "type": "nominal", "scale": {"type": "band", "domain": ["header rule"], "range": [476, 1101], "paddingInner": 0, "paddingOuter": 0}, "axis": null},
                    "y": {"field": "part", "type": "nominal", "scale": {"type": "band", "domain": ["header rule"], "range": [65, 67.5], "paddingInner": 0, "paddingOuter": 0}, "axis": null}
                  }
                },
                {
                  "data": {"name": "table"},
                  "encoding": {
                    "x": {"field": "c", "type": "nominal", "scale": {"type": "point", "domain": ["Characteristic", "Mar-2000", "Oct-2007", "Jun-2014"], "range": [674.5, 1084], "padding": 0}, "axis": null}
                  },
                  "resolve": {"scale": {"y": "independent"}},
                  "layer": [
                    {
                      "transform": [{"filter": "datum.r === 'header'"}],
                      "encoding": {"y": {"field": "r", "type": "nominal", "scale": {"type": "point", "domain": ["header"], "range": [55, 55], "padding": 0}, "axis": null}},
                      "layer": [
                        {"transform": [{"filter": "datum.c === 'Characteristic'"}], "mark": {"type": "text", "align": "left", "baseline": "alphabetic", "dx": -190.5, "fontSize": 24.5, "fontWeight": "bold", "color": "black"}, "encoding": {"text": {"field": "t"}}},
                        {"transform": [{"filter": "datum.c !== 'Characteristic'"}], "mark": {"type": "text", "align": "right", "baseline": "alphabetic", "dx": 6, "fontSize": 24.5, "fontWeight": "bold", "color": "black"}, "encoding": {"text": {"field": "t"}}}
                      ]
                    },
                    {
                      "transform": [{"filter": "datum.r !== 'header'"}],
                      "encoding": {"y": {"field": "r", "type": "nominal", "scale": {"type": "point", "domain": ["Index level", "P/E ratio (fwd.)", "Dividend yield", "10-yr. Treasury"], "range": [97, 185], "padding": 0}, "axis": null}},
                      "layer": [
                        {"transform": [{"filter": "datum.c === 'Characteristic'"}], "mark": {"type": "text", "align": "left", "baseline": "alphabetic", "dx": -168.5, "fontSize": 24.5, "color": "black"}, "encoding": {"text": {"field": "t"}}},
                        {"transform": [{"filter": "datum.c !== 'Characteristic'"}], "mark": {"type": "text", "align": "right", "baseline": "alphabetic", "fontSize": 24.5, "color": "black"}, "encoding": {"text": {"field": "t"}}},
                        {"transform": [{"filter": "datum.c === 'Mar-2000' || datum.c === 'Oct-2007'"}], "mark": {"type": "text", "align": "left", "baseline": "alphabetic", "dx": 17, "fontSize": 28, "font": "DejaVu Sans", "color": "black"}, "encoding": {"text": {"value": "➔"}}}
                      ]
                    }
                  ]
                }
              ]
            }
          ],
          "spacing": 57
        },
        {
          "hconcat": [
            {
              "width": 124, "height": 2,
              "data": {"values": [{"page": "4"}]},
              "mark": {"type": "text", "align": "center", "baseline": "alphabetic", "dx": 3.5, "dy": 41, "fontSize": 31, "color": "#1A1A1A"},
              "encoding": {"text": {"field": "page"}}
            },
            {
              "width": 2, "height": 2,
              "data": {"name": "foot"},
              "layer": [
                {"mark": {"type": "text", "align": "left", "baseline": "alphabetic", "dx": -1, "dy": -171, "fontSize": 22.3, "color": "#1E1E1E"}, "encoding": {"text": {"field": "source"}}},
                {"mark": {"type": "text", "align": "left", "baseline": "alphabetic", "dx": -1, "dy": -133, "lineHeight": 25.3, "fontSize": 22.3, "color": "#1E1E1E"}, "encoding": {"text": {"field": "notes"}}},
                {"mark": {"type": "text", "align": "left", "baseline": "alphabetic", "dx": -1, "dy": -19, "fontSize": 22.3, "color": "#1E1E1E"}, "encoding": {"text": {"field": "guide"}}},
                {"mark": {"type": "text", "align": "left", "baseline": "alphabetic", "dx": -1, "dy": 19, "fontSize": 22.3, "color": "#1E1E1E"}, "encoding": {"text": {"field": "asof"}}}
              ]
            },
            {"width": 1370, "height": 2, "data": {"values": []}, "mark": "point"},
            {
              "width": 283, "height": 2,
              "view": {"fill": "#A2A3AB", "stroke": null},
              "data": {"values": [{"brand": "J.P.Morgan", "unit": "Asset Management"}]},
              "layer": [
                {"mark": {"type": "text", "align": "center", "baseline": "alphabetic", "dy": -11, "font": "Liberation Serif", "fontSize": 63, "color": "#5C3D2B"}, "encoding": {"text": {"field": "brand"}}},
                {"mark": {"type": "text", "align": "center", "baseline": "alphabetic", "dy": 33, "fontSize": 32, "color": "#8A8D95"}, "encoding": {"text": {"field": "unit"}}}
              ]
            }
          ],
          "spacing": 57,
          "bounds": "flush"
        }
      ],
      "spacing": 5
    }
  ]
}
